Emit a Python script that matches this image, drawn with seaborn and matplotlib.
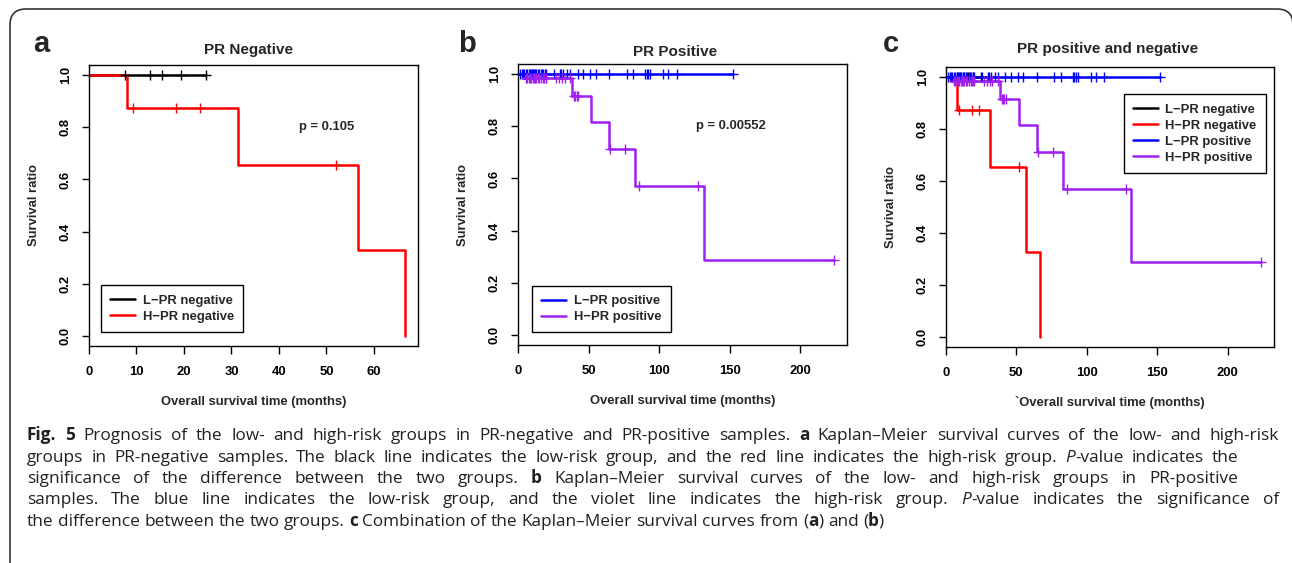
import re
import numpy as np
import matplotlib
matplotlib.use("Agg")
import matplotlib.pyplot as plt
from matplotlib.patches import FancyBboxPatch
import seaborn as sns

# Data (months / survival ratio)
lneg_times = [0, 24.7]
lneg_surv = [1.0, 1.0]
lneg_cens = [7.6, 12.9, 15.3, 19.3, 24.7]

hneg_times = [0, 8.0, 31.4, 56.6, 66.6]
hneg_surv = [1.0, 0.875, 0.656, 0.328, 0.0]
hneg_cens = [9.2, 18.4, 23.4, 52.0]

lpos_times = [0, 151.9]
lpos_surv = [1.0, 1.0]
lpos_cens = [1.5, 2.5, 3.5, 4.5, 5.5, 6.5, 7.5, 8.5, 9.5, 10, 10.5, 11, 12, 13, 14,
             15, 16, 17, 18, 19, 20, 25.5, 29.5, 30.5, 32, 34.5, 37, 42.2, 46, 51,
             55, 64.5, 77, 81.6, 90, 91, 92.2, 93.6, 103, 106.4, 112.3, 151.9]

hpos_times = [0, 4.0, 38.0, 51.6, 64.4, 83.0, 131.6, 224.0]
hpos_surv = [1.0, 0.986, 0.918, 0.816, 0.714, 0.571, 0.286, 0.286]
hpos_cens = [5.5, 6.5, 7.5, 8.5, 9.5, 10.5, 11.5, 12, 13, 14, 15, 16, 17.5, 18.5,
             19.5, 20, 27, 29, 31, 33, 37, 39.5, 40.5, 41.5, 42.5, 65, 75.7, 85.8,
             127.8, 224]

p_neg = "p = 0.105"
p_pos = "p = 0.00552"

lab_lneg, lab_hneg = "L\u2212PR negative", "H\u2212PR negative"
lab_lpos, lab_hpos = "L\u2212PR positive", "H\u2212PR positive"

caption_lines = [
    "**Fig. 5** Prognosis of the low- and high-risk groups in PR-negative and PR-positive samples. **a** Kaplan\u2013Meier survival curves of the low- and high-risk",
    "groups in PR-negative samples. The black line indicates the low-risk group, and the red line indicates the high-risk group. _P_-value indicates the",
    "significance of the difference between the two groups. **b** Kaplan\u2013Meier survival curves of the low- and high-risk groups in PR-positive",
    "samples. The blue line indicates the low-risk group, and the violet line indicates the high-risk group. _P_-value indicates the significance of",
    "the difference between the two groups. **c** Combination of the Kaplan\u2013Meier survival curves from (**a**) and (**b**)",
]
caption_ends = [1279, 1238, 1238, 1279, 884]

sns.set_style("ticks")
plt.rcParams["font.family"] = ["Liberation Sans", "DejaVu Sans"]

W, H = 1292, 563
fig = plt.figure(figsize=(W / 100, H / 100), dpi=100)

# full-figure pixel axes for frame, labels and caption
bg = fig.add_axes([0, 0, 1, 1])
bg.set_xlim(0, W)
bg.set_ylim(H, 0)
bg.axis("off")
bg.add_patch(FancyBboxPatch((10, 9), 1283, 575, boxstyle="round,pad=0,rounding_size=16",
                            fill=False, ec="#333333", lw=1.2, clip_on=False))


def add_ax(l, t, r, b):
    return fig.add_axes([l / W, 1 - b / H, (r - l) / W, (b - t) / H])


def km(ax, times, surv, cens, color, label):
    sns.lineplot(x=times, y=surv, drawstyle="steps-post", color=color, lw=1.8,
                 label=label, estimator=None, sort=False, ax=ax)
    t = np.array(times)
    s = np.array(surv)
    idx = np.searchsorted(t, cens, side="right") - 1
    sns.scatterplot(x=cens, y=s[idx], marker="+", s=45, color=color, linewidth=1.0,
                    legend=False, ax=ax, zorder=3)


def style(ax, xmax, xticks, xlabel):
    ax.set_xlim(0, xmax * 1.04)
    ax.set_ylim(-0.04, 1.04)
    ax.set_xticks(xticks)
    yt = [0, 0.2, 0.4, 0.6, 0.8, 1.0]
    ax.set_yticks(yt)
    ax.set_yticklabels([f"{v:.1f}" for v in yt], rotation=90, va="center")
    ax.set_xticklabels([str(v) for v in xticks])
    ax.tick_params(axis="both", direction="out", length=5.4, width=1, color="black",
                   labelsize=9.4, labelcolor="black")
    ax.tick_params(axis="x", pad=9)
    ax.tick_params(axis="y", pad=7)
    for lab in ax.get_xticklabels() + ax.get_yticklabels():
        lab.set_fontweight("bold")
    for sp in ax.spines.values():
        sp.set_visible(True)
        sp.set_color("black")
        sp.set_linewidth(1)
    ax.set_xlabel(xlabel, fontsize=9.4, fontweight="bold")
    ax.set_ylabel("Survival ratio", fontsize=9.4, fontweight="bold")
    ax.xaxis.set_label_coords(0.5, -0.198)
    ax.xaxis.label.set_va("center")
    ax.yaxis.set_label_coords(-0.168, 0.5)
    ax.yaxis.label.set_va("center")


def legend(ax, **kw):
    leg = ax.legend(frameon=True, fancybox=False, edgecolor="black", framealpha=1,
                    prop={"weight": "bold", "size": 9.4}, handlelength=1.9,
                    handletextpad=0.6, labelspacing=0.3, borderpad=0.7,
                    borderaxespad=0, **kw)
    leg.get_frame().set_linewidth(1)


# panel a
ax_a = add_ax(89, 65, 418, 346)
km(ax_a, lneg_times, lneg_surv, lneg_cens, "black", lab_lneg)
km(ax_a, hneg_times, hneg_surv, hneg_cens, "red", lab_hneg)
style(ax_a, max(hneg_times + lneg_cens), [0, 10, 20, 30, 40, 50, 60],
      "Overall survival time (months)")
ax_a.text(50, 0.8, p_neg, ha="center", va="center", fontsize=9.4, fontweight="bold")
legend(ax_a, loc="lower left", bbox_to_anchor=(0.036, 0.05))

# panel b
ax_b = add_ax(518, 64, 847, 345)
km(ax_b, lpos_times, lpos_surv, lpos_cens, "blue", lab_lpos)
km(ax_b, hpos_times, hpos_surv, hpos_cens, "#A020F0", lab_hpos)
style(ax_b, max(hpos_times + lpos_cens), [0, 50, 100, 150, 200],
      "Overall survival time (months)")
ax_b.text(150.5, 0.8, p_pos, ha="center", va="center", fontsize=9.4, fontweight="bold")
legend(ax_b, loc="lower left", bbox_to_anchor=(0.043, 0.045))

# panel c
ax_c = add_ax(946, 67, 1274, 347)
km(ax_c, lneg_times, lneg_surv, lneg_cens, "black", lab_lneg)
km(ax_c, hneg_times, hneg_surv, hneg_cens, "red", lab_hneg)
km(ax_c, lpos_times, lpos_surv, lpos_cens, "blue", lab_lpos)
km(ax_c, hpos_times, hpos_surv, hpos_cens, "#A020F0", lab_hpos)
style(ax_c, max(hpos_times + lpos_cens), [0, 50, 100, 150, 200],
      "`Overall survival time (months)")
legend(ax_c, loc="upper right", bbox_to_anchor=(0.975, 0.9025))

# titles and panel letters
for x, y, t in [(249, 50, "PR Negative"), (675, 51.5, "PR Positive"),
                (1108, 49.5, "PR positive and negative")]:
    bg.text(x, y, t, ha="center", va="center", fontsize=11, fontweight="bold")
for x, t in [(33, "a"), (458, "b"), (883, "c")]:
    bg.text(x, 51.7, t, ha="left", va="baseline", fontsize=21, fontweight="bold")

# caption, word by word so lines can be justified
renderer = fig.canvas.get_renderer()
cap_font = dict(family=["Open Sans", "DejaVu Sans"], fontsize=10, color="#231f20")


def parse_words(line):
    pieces = []
    for part in re.split(r"(\*\*.+?\*\*|_.+?_)", line):
        if not part:
            continue
        if part.startswith("**"):
            pieces.append((part[2:-2], "b"))
        elif part.startswith("_"):
            pieces.append((part[1:-1], "i"))
        else:
            pieces.append((part, ""))
    words = [[]]
    for text, st in pieces:
        chunks = text.split(" ")
        for k, ch in enumerate(chunks):
            if k > 0:
                words.append([])
            if ch:
                words[-1].append((ch, st))
    return [w for w in words if w]


def seg_text(x, y, s, st):
    kw = dict(cap_font)
    if st == "b":
        kw["fontweight"] = "bold"
    if st == "i":
        kw["fontstyle"] = "italic"
    return bg.text(x, y, s, ha="left", va="baseline", **kw)


def measure(s, st=""):
    t = seg_text(0, -50, s, st)
    w = t.get_window_extent(renderer).width
    t.remove()
    return w


def layout_line(line, y, x0, end, draw=True):
    words = parse_words(line)
    space_w = measure("x x") - measure("xx")
    objs, widths = [], []
    for w in words:
        segs = [seg_text(0, y, s, st) for s, st in w]
        ws = [t.get_window_extent(renderer).width for t in segs]
        objs.append((segs, ws))
        widths.append(sum(ws))
    natural = sum(widths) + space_w * (len(words) - 1)
    if not draw:
        for segs, _ in objs:
            for t in segs:
                t.remove()
        return natural
    gap = space_w if end is None else (end - x0 - sum(widths)) / (len(words) - 1)
    x = x0
    for (segs, ws), wsum in zip(objs, widths):
        xx = x
        for t, w in zip(segs, ws):
            t.set_x(xx)
            xx += w
        x += wsum + gap
    return natural


x0 = 27
# size the caption so the last (unstretched) line ends where it does
nat = layout_line(caption_lines[-1], -50, x0, None, draw=False)
cap_font["fontsize"] = 10 * (caption_ends[-1] - x0) / nat

for i, line in enumerate(caption_lines):
    layout_line(line, 440 + i * 21.5, x0, caption_ends[i])

fig.savefig("out.png", dpi=100)
